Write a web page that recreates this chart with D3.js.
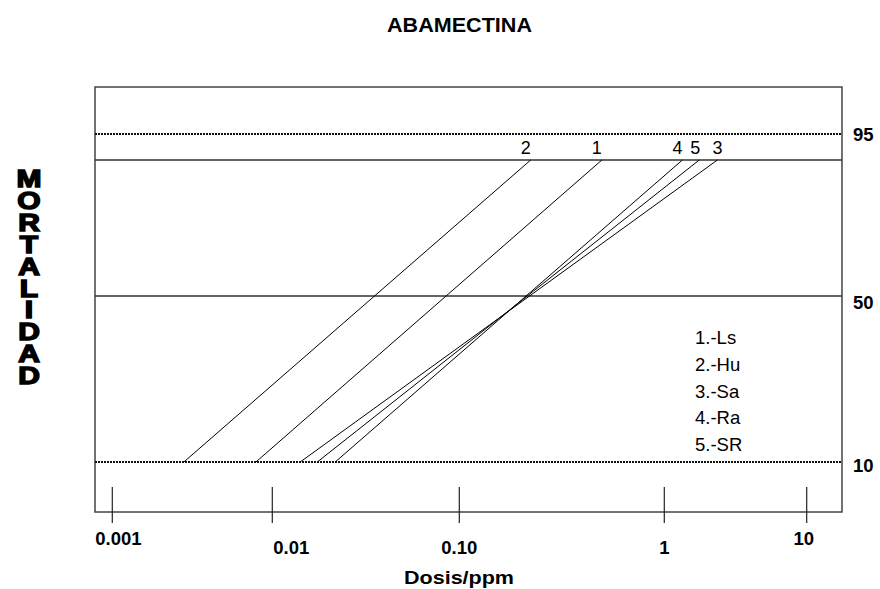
<!DOCTYPE html>
<html>
<head>
<meta charset="utf-8">
<script src="https://cdn.jsdelivr.net/npm/d3@7"></script>
<style>
  body { margin: 0; background: #fff; }
  text { font-family: "Liberation Sans", Arial, sans-serif; fill: #000; }
</style>
</head>
<body>
<svg id="chart" width="880" height="589"></svg>
<script>
// lines: dose at 10% mortality and at the top (90%) mortality
var series = ["1", "2", "3", "4", "5"];
var seriesNames = ["Ls", "Hu", "Sa", "Ra", "SR"];
var dose10 = [0.0079, 0.0028, 0.0141, 0.0217, 0.0174];
var doseTop = [0.496, 0.223, 2.36, 1.34, 1.76];
var mortLow = 10, mortTop = 90;

var refLevels = [95, 90, 50, 10];
var dottedLevels = [95, 10];
var yLabels = [95, 50, 10];

var xTicks = [0.001, 0.01, 0.1, 1, 10];
var xTickLabels = ["0.001", "0.01", "0.10", "1", "10"];

var svg = d3.select("#chart");

var box = {left: 95, top: 87, right: 842, bottom: 512};

// axis spacing in the original isn't uniform, so piecewise scales
var x = d3.scaleLog()
    .domain(xTicks)
    .range([112.3, 272.3, 459.3, 664.3, 806.7]);

var y = d3.scaleLinear()
    .domain([10, 50, 90, 95])
    .range([462, 296, 160, 134]);

// title
svg.append("text")
    .attr("x", 459.5).attr("y", 32)
    .attr("text-anchor", "middle")
    .attr("font-size", 20).attr("font-weight", "bold")
    .attr("textLength", 145).attr("lengthAdjust", "spacingAndGlyphs")
    .text("ABAMECTINA");

// frame
svg.append("rect")
    .attr("x", box.left).attr("y", box.top)
    .attr("width", box.right - box.left).attr("height", box.bottom - box.top)
    .attr("fill", "none").attr("stroke", "#444").attr("stroke-width", 1.5);

// reference mortality lines
svg.append("g").selectAll("line")
    .data(refLevels)
    .enter().append("line")
    .attr("x1", box.left).attr("x2", box.right)
    .attr("y1", function(d) { return y(d); })
    .attr("y2", function(d) { return y(d); })
    .attr("stroke", function(d) { return dottedLevels.indexOf(d) >= 0 ? "#111" : "#333"; })
    .attr("stroke-width", function(d) { return dottedLevels.indexOf(d) >= 0 ? 2 : 1.3; })
    .attr("stroke-dasharray", function(d) { return dottedLevels.indexOf(d) >= 0 ? "2,1" : null; });

// right labels
var yLabelDy = {95: 7, 50: 13, 10: 10};
svg.append("g").selectAll("text")
    .data(yLabels)
    .enter().append("text")
    .attr("x", 853)
    .attr("y", function(d) { return y(d) + yLabelDy[d]; })
    .attr("font-size", 18.5).attr("font-weight", "bold")
    .text(function(d) { return d; });

// x ticks
svg.append("g").selectAll("line")
    .data(xTicks)
    .enter().append("line")
    .attr("x1", function(d) { return x(d); })
    .attr("x2", function(d) { return x(d); })
    .attr("y1", 487).attr("y2", 523)
    .attr("stroke", "#222").attr("stroke-width", 1.2);

var tickAnchor = ["start", "start", "middle", "middle", "middle"];
var tickDx = [-17, 1, 0, 0, -3];
var tickY = [545, 554, 554, 554, 545];
svg.append("g").selectAll("text")
    .data(xTicks)
    .enter().append("text")
    .attr("x", function(d, i) { return x(d) + tickDx[i]; })
    .attr("y", function(d, i) { return tickY[i]; })
    .attr("text-anchor", function(d, i) { return tickAnchor[i]; })
    .attr("font-size", 18.5).attr("font-weight", "bold")
    .text(function(d, i) { return xTickLabels[i]; });

svg.append("text")
    .attr("x", 459).attr("y", 584)
    .attr("text-anchor", "middle")
    .attr("font-size", 19).attr("font-weight", "bold")
    .attr("textLength", 110).attr("lengthAdjust", "spacingAndGlyphs")
    .text("Dosis/ppm");

// vertical stacked y label (upright letters, single text)
svg.append("text")
    .attr("transform", "translate(29,165) scale(1.25,1)")
    .attr("x", 0).attr("y", 0)
    .style("writing-mode", "vertical-rl")
    .style("text-orientation", "upright")
    .style("letter-spacing", "-5.5px")
    .attr("font-size", 24).attr("font-weight", "bold")
    .attr("stroke", "#000").attr("stroke-width", 1.5)
    .text("MORTALIDAD");

// probit lines
var lines = series.map(function(s, i) {
    return {id: s, lo: dose10[i], hi: doseTop[i]};
});

svg.append("g").selectAll("line")
    .data(lines)
    .enter().append("line")
    .attr("x1", function(d) { return x(d.lo); })
    .attr("y1", y(mortLow))
    .attr("x2", function(d) { return x(d.hi); })
    .attr("y2", y(mortTop))
    .attr("stroke", "#000").attr("stroke-width", 1);

var labelDx = [-5, -5, 0, -5, -4];
svg.append("g").selectAll("text")
    .data(lines)
    .enter().append("text")
    .attr("x", function(d, i) { return x(d.hi) + labelDx[i]; })
    .attr("y", y(mortTop) - 6)
    .attr("text-anchor", "middle")
    .attr("font-size", 18)
    .text(function(d) { return d.id; });

// legend
svg.append("g").selectAll("text")
    .data(series)
    .enter().append("text")
    .attr("x", 695)
    .attr("y", function(d, i) { return 344 + i * 26.8; })
    .attr("font-size", 18.5)
    .text(function(d, i) { return d + ".-" + seriesNames[i]; });
</script>
</body>
</html>
